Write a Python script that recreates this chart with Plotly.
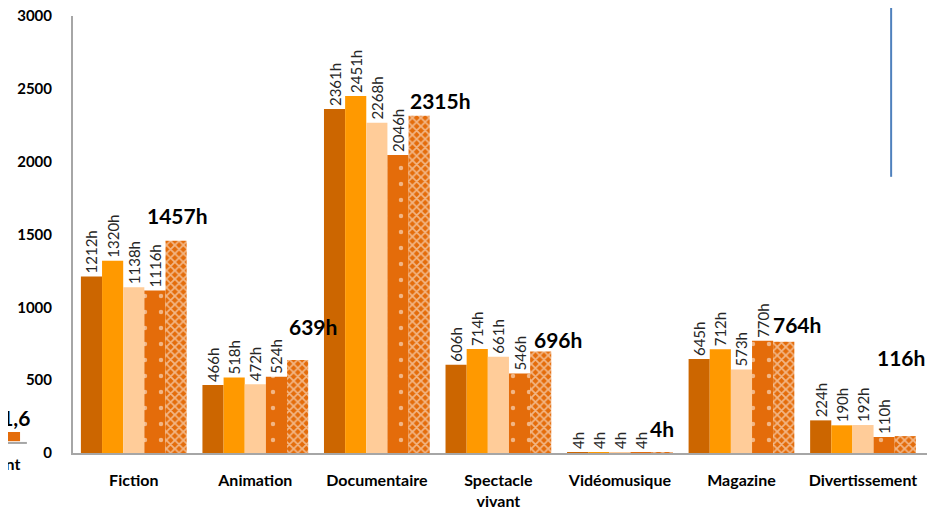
import plotly.graph_objects as go

categories = ["Fiction", "Animation", "Documentaire", "Spectacle<br>vivant",
              "Vidéomusique", "Magazine", "Divertissement"]
serie_1 = [1212, 466, 2361, 606, 4, 645, 224]
serie_2 = [1320, 518, 2451, 714, 4, 712, 190]
serie_3 = [1138, 472, 2268, 661, 4, 573, 192]
serie_4 = [1116, 524, 2046, 546, 4, 770, 110]
serie_5 = [1457, 639, 2315, 696, 4, 764, 116]
y_ticks = [0, 500, 1000, 1500, 2000, 2500, 3000]

# label placement for the last (bold) series, in pixels
last_xshift = [44, 58, 64, 60, 42, 56, 38]
last_yshift = [25, 33, 15, 12, 24, 17, 79]

FONT = "Lato"
fig = go.Figure()

plain = [
    (serie_1, "#CC6600", None),
    (serie_2, "#FF9900", None),
    (serie_3, "#FFCC99", None),
    (serie_4, "#E46C0A", dict(shape=".", fgcolor="white", bgcolor="#E46C0A",
                              size=16, solidity=0.06)),
]
for vals, col, pat in plain:
    fig.add_trace(go.Bar(
        x=categories, y=vals,
        marker=dict(color=col, line=dict(width=0), pattern=pat),
        text=[f"{v}h" for v in vals],
        textposition="outside", textangle=-90, cliponaxis=False,
        constraintext="none",
        textfont=dict(family=FONT, size=15, color="#262626"),
    ))

fig.add_trace(go.Bar(
    x=categories, y=serie_5,
    marker=dict(color="#E46C0A", line=dict(width=0),
                pattern=dict(shape="x", fgcolor="white", bgcolor="#E46C0A",
                             size=6, solidity=0.5)),
))

for c, v, xs, ys in zip(categories, serie_5, last_xshift, last_yshift):
    fig.add_annotation(x=c, y=v, text=f"<b>{v}h</b>", showarrow=False,
                       xshift=xs, yshift=ys, yanchor="middle",
                       font=dict(family=FONT, size=21, color="black"))

# fragments of the neighbouring chart and a stray line
fig.add_annotation(xref="paper", yref="paper", x=-0.074, y=0.082,
                   text="<b>11,6</b>", showarrow=False, xanchor="center",
                   yanchor="middle",
                   font=dict(family=FONT, size=21, color="black"))
fig.add_annotation(xref="paper", yref="paper", x=-0.060, y=-0.023,
                   text="<b>ent</b>", showarrow=False, xanchor="right",
                   yanchor="middle",
                   font=dict(family=FONT, size=16, color="black"))
fig.add_shape(type="rect", xref="paper", yref="paper",
              x0=-0.086, x1=-0.062, y0=0.027, y1=0.048,
              fillcolor="#E46C0A", line=dict(width=0))
fig.add_shape(type="line", xref="paper", yref="paper",
              x0=-0.086, x1=-0.054, y0=0.023, y1=0.023,
              line=dict(color="#A6A6A6", width=2))
fig.add_shape(type="line", xref="paper", yref="paper",
              x0=0.958, x1=0.958, y0=0.632, y1=1.04,
              line=dict(color="#4F81BD", width=2))

# the page body adds an 8px offset, margins compensate for it
fig.update_layout(
    width=940, height=508,
    margin=dict(l=65, r=21, t=8, b=63),
    paper_bgcolor="white", plot_bgcolor="white",
    barmode="group", bargap=0.13, bargroupgap=0,
    showlegend=False,
    font=dict(family=FONT, color="black"),
)
fig.update_yaxes(range=[0, 3000], tickvals=y_ticks, showgrid=False,
                 showline=True, linecolor="#A6A6A6", linewidth=2,
                 ticks="outside", ticklen=16, tickcolor="rgba(0,0,0,0)",
                 tickfont=dict(family=FONT, size=15, color="black", weight="bold"),
                 ticklabeloverflow="allow",
                 zeroline=False, automargin=False)
fig.update_xaxes(showline=True, linecolor="#A6A6A6", linewidth=2,
                 ticks="outside", ticklen=12, tickcolor="rgba(0,0,0,0)",
                 tickfont=dict(family=FONT, size=16, color="black", weight="bold"),
                 showgrid=False, automargin=False)

fig.write_html("out.html")
